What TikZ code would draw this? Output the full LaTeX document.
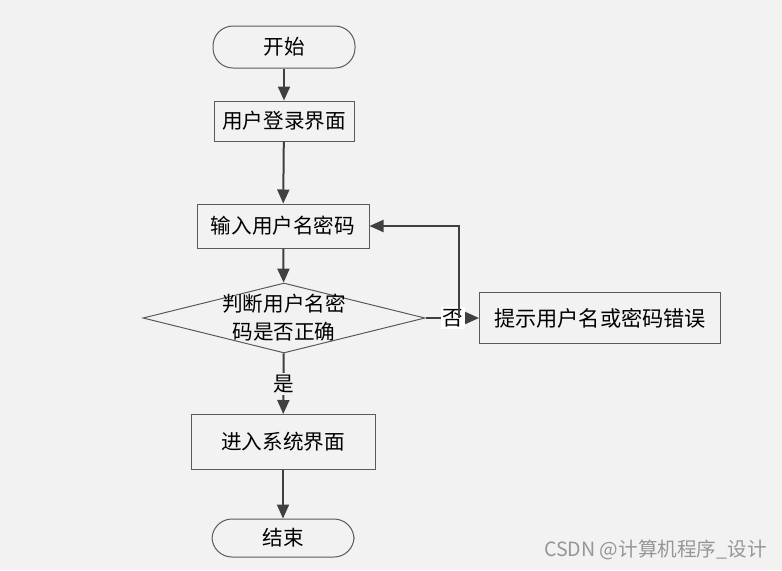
\documentclass[tikz,border=0pt]{standalone}
\usepackage{fontspec}
\setmainfont{Noto Sans CJK SC}
\usepackage{tikz}
\usetikzlibrary{arrows.meta,shapes.geometric}

\definecolor{bggray}{RGB}{242,242,242}
\definecolor{edgegray}{RGB}{90,90,90}
\definecolor{arrowgray}{RGB}{64,64,64}
\definecolor{markgray}{RGB}{150,150,150}

\tikzset{
    box/.style={draw=edgegray, line width=0.5pt, inner sep=0pt,
        font=\fontsize{10.3}{13}\selectfont},
    term/.style={box, rounded corners=10pt},
    flow/.style={draw=arrowgray, line width=1pt,
        -{Triangle[length=7pt,width=6pt]}},
    tag/.style={inner sep=1pt, font=\fontsize{10.3}{13}\selectfont}
}

\begin{document}
\begin{tikzpicture}[x=0.5pt,y=-0.5pt]
    % Draw background
    \fill[bggray] (0,0) rectangle (782,570);
    \useasboundingbox (0,0) rectangle (782,570);

    % Draw nodes
    \node[term, minimum width=71pt, minimum height=21pt] (start) at (284,47) {开始};
    \node[box, minimum width=70pt, minimum height=20pt] (login) at (284,121) {用户登录界面};
    \node[box, minimum width=86pt, minimum height=22pt] (input) at (283,226) {输入用户名密码};
    \node[draw=edgegray, line width=0.5pt, diamond, inner sep=0pt,
        minimum width=141pt, minimum height=35pt] (judge) at (284,318) {};
    \node[align=center, font=\fontsize{10.3}{14}\selectfont] (judgetext) at (284,318)
        {判断用户名密\\码是否正确};
    \node[box, minimum width=120.5pt, minimum height=25.5pt,
        font=\fontsize{10.6}{14}\selectfont] (hint) at (600,318) {提示用户名或密码错误};
    \node[box, minimum width=92pt, minimum height=27.5pt] (enter) at (283,442) {进入系统界面};
    \node[term, minimum width=71pt, minimum height=19pt] (stop) at (283,538) {结束};

    % Draw arrows
    \draw[flow] (start) -- (login);
    \draw[flow] (login) -- (input);
    \draw[flow] (input) -- (judge);
    \draw[flow] (judge) -- node[tag, fill=bggray] (yes) {是} (enter);
    \draw[flow] (judge) -- (hint);
    \draw[flow] (enter) -- (stop);
    \node[tag, fill=white] (no) at (453,318) {否};

    % Draw loop back to the input box
    \coordinate (back) at (459,318);
    \draw[flow] (back) |- (input.east);

    % Draw watermark
    \node[markgray, inner sep=0pt, font=\fontsize{9.8}{11}\selectfont, anchor=east]
        (mark) at (767,550) {CSDN @计算机程序\_设计};
\end{tikzpicture}
\end{document}
